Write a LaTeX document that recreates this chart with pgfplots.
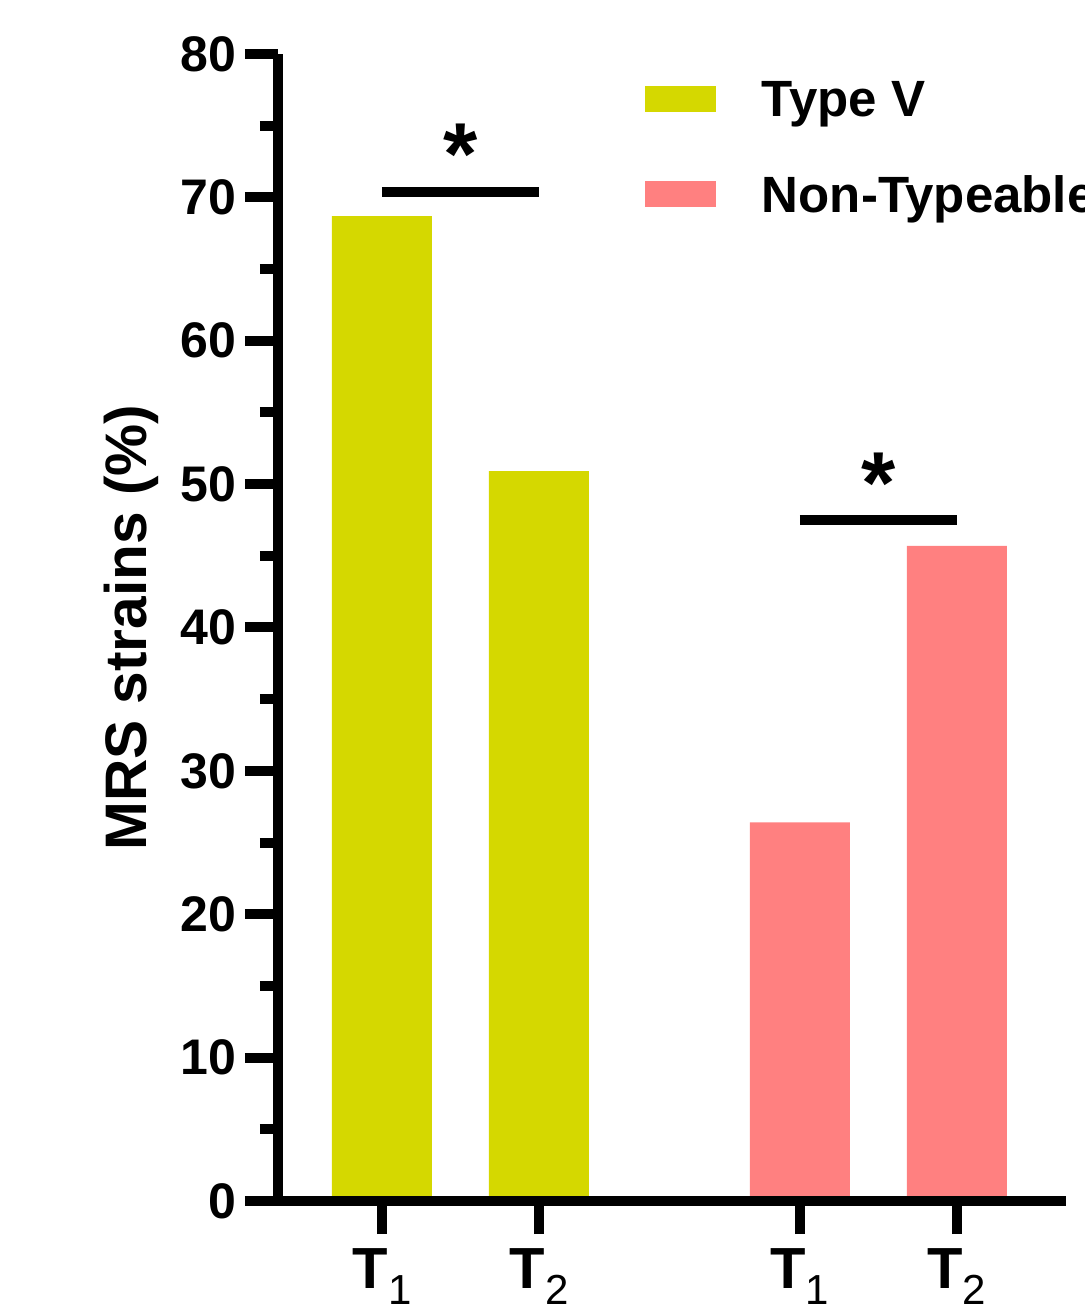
\documentclass[border=0pt]{standalone}
\usepackage{pgfplots}
\pgfplotsset{compat=1.18}
\usepackage{fontspec}
\setmainfont{Liberation Sans}
\definecolor{tyv}{RGB}{213,216,0}
\definecolor{ntp}{RGB}{255,128,128}
\newcommand{\Tsub}[1]{T\raisebox{-8pt}{\fontsize{21}{21}\selectfont\mdseries #1}}
\begin{document}
\begin{tikzpicture}
\begin{axis}[
  at={(0,0)}, anchor=south west,
  scale only axis, width=394pt, height=573.5pt,
  xmin=0.3376, xmax=5.357, ymin=0, ymax=80,
  axis lines=left, axis line style={line width=5pt, -},
  axis on top,
  ytick={0,10,...,80}, minor ytick={5,15,...,75},
  xtick={1,2,3.662,4.662},
  xticklabels={\Tsub{1},\Tsub{2},\Tsub{1},\Tsub{2}},
  tick align=outside,
  major tick length=16.5pt, minor tick length=9pt,
  every tick/.style={black, line width=5pt},
  /pgf/number format/assume math mode=true,
  ticklabel style={font=\fontsize{25}{25}\selectfont\bfseries},
  xticklabel style={font=\fontsize{29}{29}\selectfont\bfseries, anchor=north, yshift=-4pt},
  yticklabel style={anchor=east, inner sep=0pt, xshift=-4pt},
  ylabel={MRS strains (\%)},
  ylabel style={font=\fontsize{29.3}{29.3}\selectfont\bfseries, at={(rel axis cs:-0.1865,0.5)}, anchor=center},
  legend style={draw=none, fill=none, inner sep=0pt, outer sep=0pt,
    at={(rel axis cs:0.4657,0.9762)}, anchor=north west,
    row sep=28.3pt, column sep=23pt,
    nodes={inner sep=0pt, font=\fontsize{25.5}{25.5}\selectfont\bfseries}},
  legend cell align=left,
]
\addplot[ybar, bar width=50pt, bar shift=0pt, fill=tyv, draw=none,
  legend image code/.code={\fill[tyv] (0pt,-5.7pt) rectangle (35.5pt,7.3pt);}]
  coordinates {(1,68.7) (2,50.9)};
\addlegendentry{Type V}
\addplot[ybar, bar width=50pt, bar shift=0pt, fill=ntp, draw=none,
  legend image code/.code={\fill[ntp] (0pt,-5.7pt) rectangle (35.5pt,7.3pt);}]
  coordinates {(3.662,26.4) (4.662,45.7)};
\addlegendentry{Non-Typeable}
\draw[line width=5pt] (axis cs:1,70.4) -- (axis cs:2,70.4);
\draw[line width=5pt] (axis cs:3.662,47.5) -- (axis cs:4.662,47.5);
\node[anchor=base, inner sep=0pt, font=\fontsize{44}{44}\selectfont\bfseries] at (axis cs:1.5,74.4) {\raisebox{-0.575em}{*}};
\node[anchor=base, inner sep=0pt, font=\fontsize{44}{44}\selectfont\bfseries] at (axis cs:4.162,51.45) {\raisebox{-0.575em}{*}};
\draw[line width=5pt] (rel axis cs:0,0) -- ++(-16pt,0pt);
\end{axis}
\pgfresetboundingbox
\useasboundingbox (-139pt,-52.5pt) rectangle (403pt,600.5pt);
\end{tikzpicture}
\end{document}
